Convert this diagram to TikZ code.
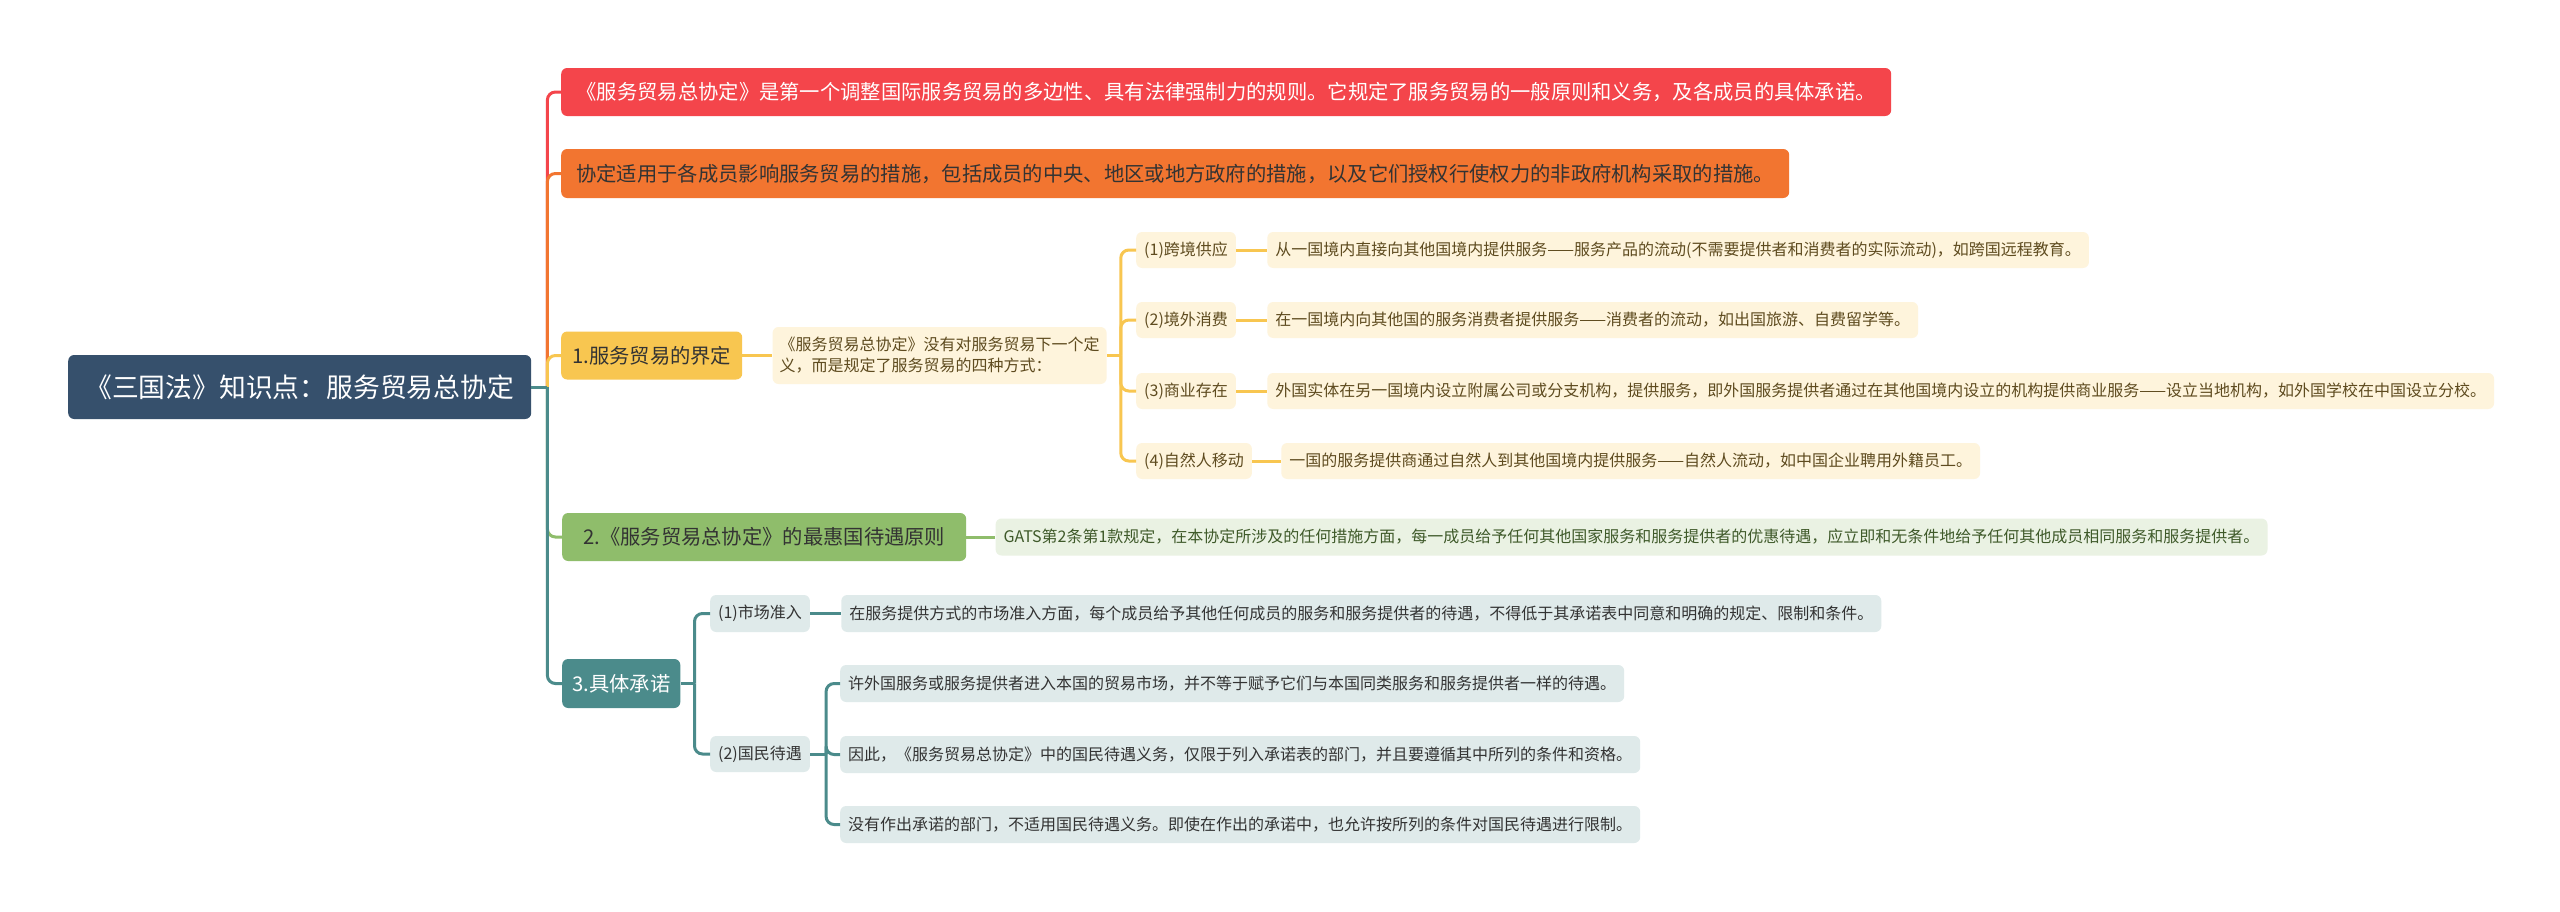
\documentclass[tikz,border=0pt]{standalone}
\usepackage{fontspec}
\newfontfamily\cjk{Noto Sans CJK SC}
\usetikzlibrary{positioning}
\definecolor{croot}{HTML}{36506C}
\definecolor{cred}{HTML}{F4454B}
\definecolor{corange}{HTML}{F27530}
\definecolor{cyellow}{HTML}{F8C650}
\definecolor{cylight}{HTML}{FEF4DC}
\definecolor{cytext}{HTML}{5E4B1F}
\definecolor{cgreen}{HTML}{8FBD6B}
\definecolor{cglight}{HTML}{EAF2E3}
\definecolor{cgtext}{HTML}{3F5A2A}
\definecolor{cteal}{HTML}{4B8B8B}
\definecolor{ctlight}{HTML}{DFEAEA}
\definecolor{cdark}{HTML}{333333}
\tikzset{
  every picture/.style={font=\cjk},
  topic/.style={fill=#1, rounded corners=6pt, anchor=west, inner xsep=10pt, minimum height=48pt, font=\cjk\fontsize{20.3}{24}\selectfont},
  leaf/.style={fill=#1, rounded corners=6pt, inner xsep=8pt, minimum height=36pt, font=\cjk\fontsize{16}{21}\selectfont},
  link/.style={draw=#1, line width=3pt, rounded corners=8pt},
}

\begin{document}
\begin{tikzpicture}[
  x=1pt, y=-1pt,
  yleaf/.style={leaf=cylight, text=cytext},
  gleaf/.style={leaf=cglight, text=cgtext},
  tleaf/.style={leaf=ctlight, text=cdark},
]
  \path[fill=white, use as bounding box] (0,0) rectangle (2560,911);

  \node[fill=croot, rounded corners=6pt, anchor=west, text=white, minimum width=463pt, minimum height=64pt, font=\cjk\fontsize{26.8}{30}\selectfont] (root) at (68,387) {《三国法》知识点：服务贸易总协定};

  \node[topic=cred, text=white, minimum width=1330pt] (scope) at (561,92) {《服务贸易总协定》是第一个调整国际服务贸易的多边性、具有法律强制力的规则。它规定了服务贸易的一般原则和义务，及各成员的具体承诺。};
  \node[topic=corange, text=cdark, minimum width=1228pt, minimum height=49pt] (apply) at (561,173.5) {协定适用于各成员影响服务贸易的措施，包括成员的中央、地区或地方政府的措施，以及它们授权行使权力的非政府机构采取的措施。};
  \node[topic=cyellow, text=cdark, minimum width=181pt] (def) at (561,355.5) {1.服务贸易的界定};
  \node[topic=cgreen, text=cdark, minimum width=404pt] (mfn) at (562,537) {2.《服务贸易总协定》的最惠国待遇原则};
  \node[topic=cteal, text=white, minimum width=118pt, minimum height=49pt] (com) at (562,683.5) {3.具体承诺};

  \node[yleaf, align=left, minimum height=57pt, inner xsep=7pt, right=30pt of def] (defd) {《服务贸易总协定》没有对服务贸易下一个定\\义，而是规定了服务贸易的四种方式：};

  \node[yleaf, anchor=west] (m1) at (1136,250) {(1)跨境供应};
  \node[yleaf, anchor=west] (m2) at (1136,320) {(2)境外消费};
  \node[yleaf, anchor=west] (m3) at (1136,391) {(3)商业存在};
  \node[yleaf, anchor=west] (m4) at (1136,461) {(4)自然人移动};
  \node[yleaf, right=31pt of m1] (m1d) {从一国境内直接向其他国境内提供服务——服务产品的流动(不需要提供者和消费者的实际流动)，如跨国远程教育。};
  \node[yleaf, right=31pt of m2] (m2d) {在一国境内向其他国的服务消费者提供服务——消费者的流动，如出国旅游、自费留学等。};
  \node[yleaf, right=31pt of m3] (m3d) {外国实体在另一国境内设立附属公司或分支机构，提供服务，即外国服务提供者通过在其他国境内设立的机构提供商业服务——设立当地机构，如外国学校在中国设立分校。};
  \node[yleaf, right=29pt of m4] (m4d) {一国的服务提供商通过自然人到其他国境内提供服务——自然人流动，如中国企业聘用外籍员工。};

  \node[gleaf, minimum height=37pt, right=29pt of mfn] (mfnd) {GATS第2条第1款规定，在本协定所涉及的任何措施方面，每一成员给予任何其他国家服务和服务提供者的优惠待遇，应立即和无条件地给予任何其他成员相同服务和服务提供者。};

  \node[tleaf, anchor=west, minimum height=37pt] (ma) at (710,613.5) {(1)市场准入};
  \node[tleaf, minimum height=37pt, right=31pt of ma] (mad) {在服务提供方式的市场准入方面，每个成员给予其他任何成员的服务和服务提供者的待遇，不得低于其承诺表中同意和明确的规定、限制和条件。};
  \node[tleaf, anchor=west] (nt) at (710,754) {(2)国民待遇};
  \node[tleaf, anchor=west, minimum height=37pt] (nt1) at (840,683.5) {许外国服务或服务提供者进入本国的贸易市场，并不等于赋予它们与本国同类服务和服务提供者一样的待遇。};
  \node[tleaf, anchor=west, minimum height=37pt] (nt2) at (840,754.5) {因此，《服务贸易总协定》中的国民待遇义务，仅限于列入承诺表的部门，并且要遵循其中所列的条件和资格。};
  \node[tleaf, anchor=west, minimum height=37pt] (nt3) at (840,824.5) {没有作出承诺的部门，不适用国民待遇义务。即使在作出的承诺中，也允许按所列的条件对国民待遇进行限制。};

  \coordinate[xshift=16pt] (rootj) at (root.east);
  \coordinate[xshift=14pt] (defj) at (defd.east);
  \coordinate[xshift=14pt] (comj) at (com.east);
  \coordinate[xshift=16pt] (ntj) at (nt.east);

  \draw[link=cred] (rootj) |- (scope.west);
  \draw[link=corange] (rootj) |- (apply.west);
  \draw[link=cyellow] (rootj) |- (def.west);
  \draw[link=cgreen] (rootj) |- (mfn.west);
  \draw[link=cteal] (rootj) |- (com.west);
  \draw[link=cteal] (root.east) -- (rootj);

  \draw[link=cyellow] (def.east) -- (defd.west);
  \draw[link=cyellow] (defd.east) -- (defj);
  \foreach \m in {m1, m2, m3, m4} {
    \draw[link=cyellow] (defj) |- (\m.west);
    \draw[link=cyellow] (\m.east) -- (\m d.west);
  }

  \draw[link=cgreen] (mfn.east) -- (mfnd.west);

  \draw[link=cteal] (com.east) -- (comj);
  \draw[link=cteal] (comj) |- (ma.west);
  \draw[link=cteal] (comj) |- (nt.west);
  \draw[link=cteal] (ma.east) -- (mad.west);
  \draw[link=cteal] (nt.east) -- (ntj);
  \foreach \n in {nt1, nt2, nt3}
    \draw[link=cteal] (ntj) |- (\n.west);
\end{tikzpicture}
\end{document}
